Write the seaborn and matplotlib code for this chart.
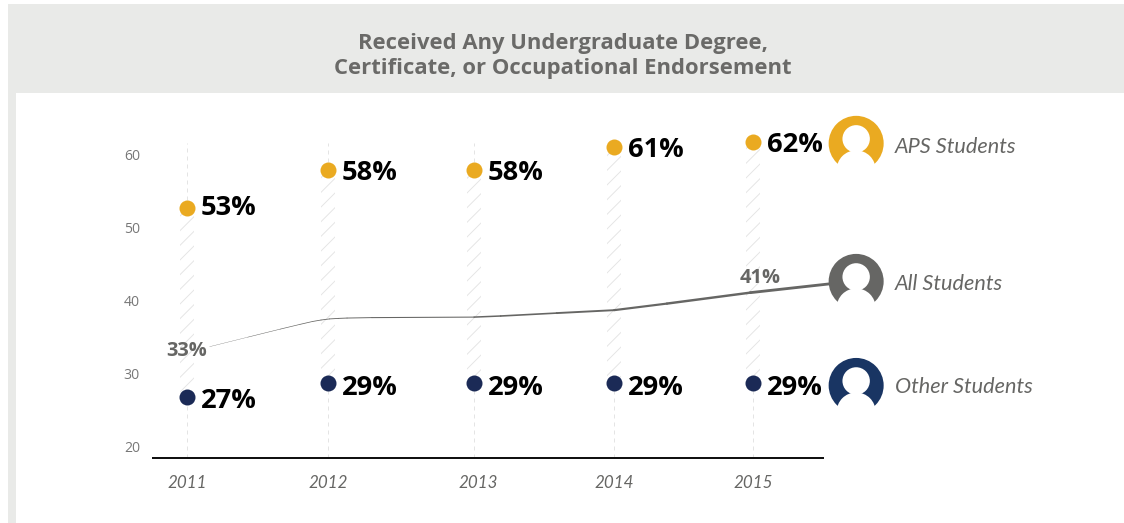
'''
Graduation outcomes by student group, 2011 to 2015, with a person icon for each group.
'''

import matplotlib.pyplot as plt
from matplotlib.patches import Circle, Rectangle
from matplotlib.transforms import ScaledTranslation
import numpy as np
import seaborn as sns

DPI = 132


def px(value):
    # pixels to points
    return value * 72 / DPI


years = [2011, 2012, 2013, 2014, 2015]
aps_values = [52.6, 57.8, 57.8, 61.0, 61.6]
other_values = [26.7, 28.6, 28.6, 28.6, 28.6]
aps_labels = ['53%', '58%', '58%', '61%', '62%']
other_labels = ['27%', '29%', '29%', '29%', '29%']

# the All Students curve
all_x = [2011.16, 2011.43, 2011.66, 2011.80, 2011.89, 2011.95, 2012.01, 2012.07, 2012.13, 2012.30,
         2013.0, 2013.19, 2013.59, 2014.0, 2014.38, 2014.98, 2015.55]
all_y = [33.6, 34.9, 36.0, 36.65, 37.05, 37.25, 37.4, 37.47, 37.52, 37.58,
         37.65, 37.8, 38.2, 38.6, 39.5, 41.0, 42.2]
all_labels = ['33%', '41%']
all_label_years = [2011, 2015]
all_label_values = [33, 41]

y_ticks = [20, 30, 40, 50, 60]
groups = ['APS Students', 'All Students', 'Other Students']
title = 'Received Any Undergraduate Degree,\nCertificate, or Occupational Endorsement'

GOLD = '#eaaa21'
NAVY = '#1b2a56'
ICON_NAVY = '#193563'
GREY = '#666664'
BANNER = '#e9eae8'
DASH = '#e4e4e4'
LABEL_FONT = 'Open Sans'
ITALIC_FONT = 'Lato'

# the years are not evenly spaced in the original
knot_years = [2010, 2011, 2012, 2013, 2014, 2015, 2016]
knot_px = [46, 187, 328, 474, 614, 753, 892]


def year_to_px(x):
    return np.interp(x, knot_years, knot_px)


def px_to_year(x):
    return np.interp(x, knot_px, knot_years)


def draw_icon(ax, y, color):
    ax.add_patch(Circle((856, y), 27.5, color=color, lw=0))
    ax.add_patch(Circle((856, y - 4.5), 13.7, color='white', lw=0))
    ax.add_patch(Circle((856, y + 26.5), 19.5, color='white', lw=0))


sns.set_theme(style='white')
plt.rcParams['hatch.linewidth'] = 0.5

fig = plt.figure(figsize=(1124.2 / DPI, 523.2 / DPI), dpi=DPI)

# pixel layer for the banner and icons
bg = fig.add_axes([0, 0, 1, 1], zorder=0)
bg.set_xlim(0, 1124)
bg.set_ylim(523, 0)
bg.axis('off')
bg.add_patch(Rectangle((8, 4), 1116, 89, color=BANNER, lw=0))
bg.add_patch(Rectangle((8, 93), 8, 430, color=BANNER, lw=0))
bg.text(562.5, 55.5, title, ha='center', va='center', color='#6a6a68', family=LABEL_FONT,
        weight='bold', fontsize=px(22), linespacing=1.25)

icon_rows = [143.5, 281.5, 385.5]
text_rows = [146.5, 283.5, 386.5]
for group, row, text_row, color in zip(groups, icon_rows, text_rows, [GOLD, GREY, ICON_NAVY]):
    draw_icon(bg, row, color)
    bg.text(895, text_row, group, va='center', color=GREY, family=ITALIC_FONT,
            style='italic', fontsize=px(21.7))

# chart axes, 7.3 px per percentage point
ax = fig.add_axes([153 / 1124, 65 / 523, 670 / 1124, 358 / 523], zorder=1)
ax.patch.set_alpha(0)
ax.set_xscale('function', functions=(year_to_px, px_to_year))
ax.set_xlim(px_to_year(153), px_to_year(823))
ax.set_ylim(18.36, 67.4)

ax.bar(years, np.subtract(aps_values, other_values), bottom=other_values, width=0.1,
       color='none', edgecolor=DASH, hatch='///', linewidth=0, zorder=1)
ax.vlines(years, 18.36, other_values, color=DASH, lw=px(1), ls=(0, (4, 4)), zorder=1)
ax.vlines(years, aps_values, 61.5, color=DASH, lw=px(1), ls=(0, (4, 4)), zorder=1)

# thin at 2011 and thick at the icon
for i in range(len(all_x) - 1):
    width = 0.3 + 2.9 * (all_x[i] - all_x[0]) / (all_x[-1] - all_x[0])
    sns.lineplot(x=all_x[i:i + 2], y=all_y[i:i + 2], color=GREY, lw=px(width), sort=False,
                 estimator=None, clip_on=False, solid_capstyle='round', zorder=2, ax=ax)

for values, color in [(aps_values, GOLD), (other_values, NAVY)]:
    sns.scatterplot(x=years, y=values, color=color, s=px(16) ** 2, linewidth=0, zorder=3, ax=ax)

aps_dy = [0, -3, -3, -3, -3]
other_dy = [-4, -5, -5, -5, -5]
for labels, values, offsets in [(aps_labels, aps_values, aps_dy),
                                (other_labels, other_values, other_dy)]:
    for year, value, label, dy in zip(years, values, labels, offsets):
        ax.annotate(label, (year, value), xytext=(px(13.5), px(dy)), textcoords='offset points',
                    va='center', color='black', family=LABEL_FONT, weight='bold', fontsize=px(27.3))

for year, value, label, dx, dy in zip(all_label_years, all_label_values, all_labels, [0, 7], [0, 15]):
    ax.annotate(label, (year, value), xytext=(px(dx), px(dy)), textcoords='offset points',
                ha='center', va='center', color=GREY, family=LABEL_FONT, weight='bold',
                fontsize=px(20), zorder=4)

ax.set_xticks(years, labels=years)
ax.set_yticks(y_ticks, labels=y_ticks)
ax.tick_params(axis='x', length=0, pad=px(17), labelsize=px(17), labelcolor=GREY)
ax.tick_params(axis='y', length=0, pad=px(13), labelsize=px(14), labelcolor='#777777')
for tick in ax.get_xticklabels():
    tick.set_family(ITALIC_FONT)
    tick.set_style('italic')
for tick in ax.get_yticklabels():
    tick.set_family(LABEL_FONT)

# the 2013 label sits a little right of its marks
label_2013 = ax.get_xticklabels()[2]
label_2013.set_transform(label_2013.get_transform()
                         + ScaledTranslation(px(4) / 72, 0, fig.dpi_scale_trans))

sns.despine(ax=ax, left=True)
ax.spines['bottom'].set_color('#111111')
ax.spines['bottom'].set_linewidth(px(2))
ax.grid(False)

fig.savefig('out.png', dpi=DPI)
plt.close(fig)
